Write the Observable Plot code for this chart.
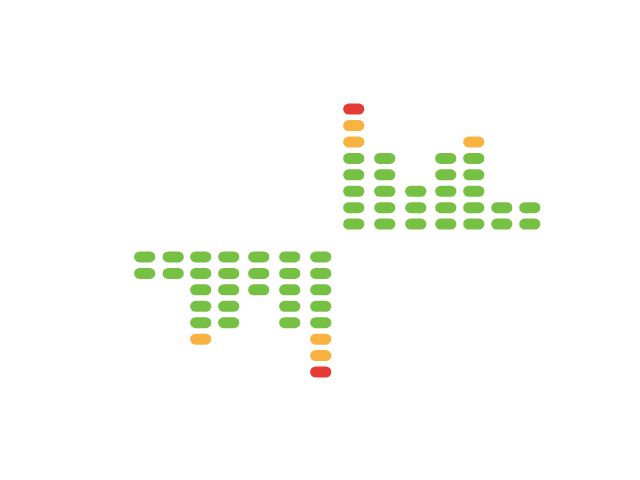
<!DOCTYPE html>
<html>
<head>
<meta charset="utf-8">
<script src="https://cdn.jsdelivr.net/npm/d3@7"></script>
<script src="https://cdn.jsdelivr.net/npm/@observablehq/plot@0.6"></script>
<style>
  html, body { margin: 0; padding: 0; background: #fff; }
</style>
</head>
<body>
<div id="chart"></div>
<script>
// Column positions along x (data units)
const leftX = [0, 28.5, 56, 84, 114, 145, 176];
const rightX = [209, 240, 271, 301, 329, 357, 385];
// Number of lit segments per column
const leftCounts = [2, 2, 6, 5, 3, 5, 8];   // hang downward
const rightCounts = [8, 5, 3, 5, 6, 2, 2];  // rise upward
// Level tiers
const tierNames = ["normal", "warning", "peak"];
const tierColors = ["#76c043", "#f7b23f", "#e53b36"];

function tierOf(k) { return k <= 5 ? "normal" : k <= 7 ? "warning" : "peak"; }

const segments = [];
leftX.forEach((x, i) => {
  for (let k = 1; k <= leftCounts[i]; k++) segments.push({x, level: -k, tier: tierOf(k)});
});
rightX.forEach((x, i) => {
  for (let k = 1; k <= rightCounts[i]; k++) segments.push({x, level: k, tier: tierOf(k)});
});

// pill-shaped symbol
const pill = {
  draw(ctx) {
    const w = 10.6, h = 5.5;
    ctx.moveTo(-w + h, -h);
    ctx.lineTo(w - h, -h);
    ctx.arc(w - h, 0, h, -Math.PI / 2, Math.PI / 2);
    ctx.lineTo(-w + h, h);
    ctx.arc(-w + h, 0, h, Math.PI / 2, 3 * Math.PI / 2);
    ctx.closePath();
  }
};

const chart = Plot.plot({
  width: 640,
  height: 480,
  marginLeft: 144.2,
  marginRight: 110.7,
  marginTop: 108.6,
  marginBottom: 108.5,
  x: {domain: [0, 385], axis: null},
  y: {domain: [-8, 8], axis: null},
  color: {domain: tierNames, range: tierColors},
  marks: [
    Plot.dot(segments, {x: "x", y: "level", fill: "tier", symbol: pill, stroke: null})
  ]
});
document.getElementById("chart").appendChild(chart);
</script>
</body>
</html>
